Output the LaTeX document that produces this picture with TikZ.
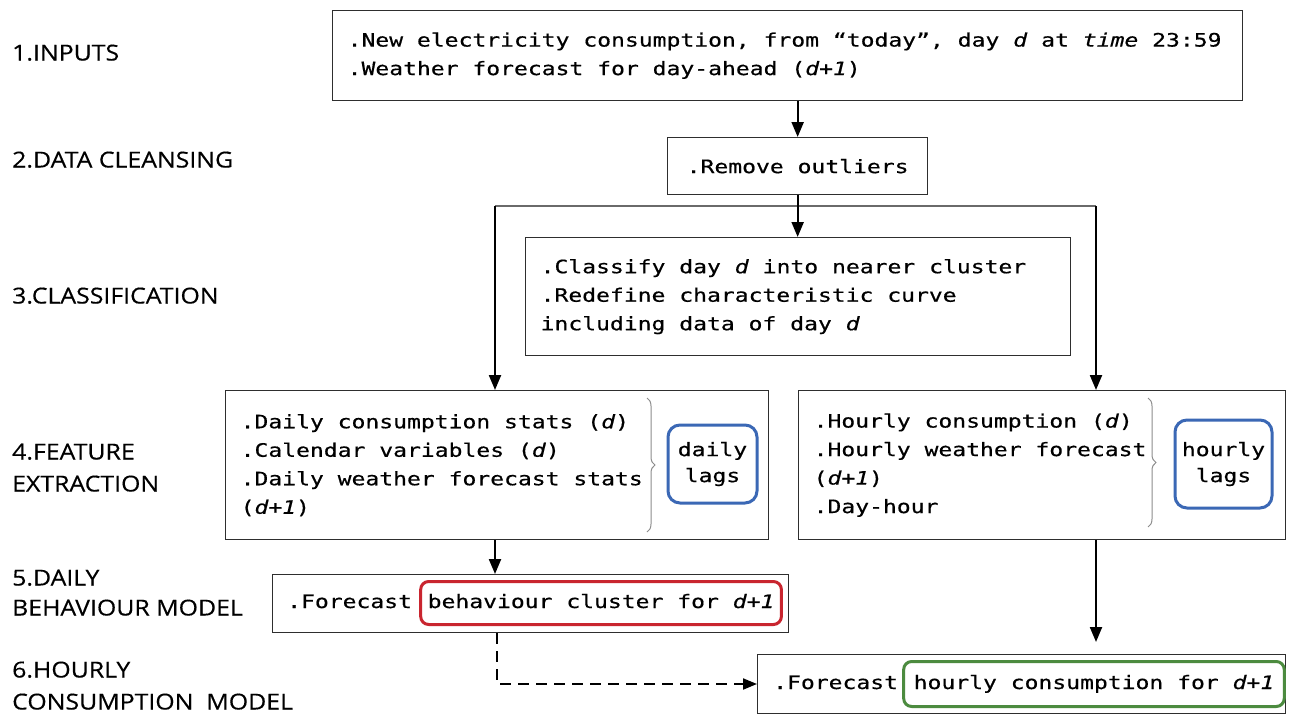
\documentclass[tikz,border=0pt]{standalone}
\usepackage{fontspec}
\usetikzlibrary{arrows.meta,decorations.pathreplacing}

% Box texts in a wide monospaced face, stage labels in a wide sans face
\newfontfamily\monofont[FakeStretch=1.245,FakeBold=0.5]{DejaVu Sans Mono}
\newfontfamily\labelfont[FakeStretch=1.13,FakeBold=0.4]{Open Sans}
% fixed, one-character-wide word spaces for the monospaced text
\newcommand\boxtextfont{\monofont\fontsize{18.5}{28.5}\selectfont
  \fontdimen2\font=13.87pt\fontdimen3\font=0pt\fontdimen4\font=0pt
  \spaceskip=13.87pt\relax}
\newcommand\lagtextfont{\monofont\fontsize{18.5}{26}\selectfont
  \fontdimen2\font=13.87pt\fontdimen3\font=0pt\fontdimen4\font=0pt
  \spaceskip=13.87pt\relax}

\definecolor{boxline}{HTML}{2E2E2E}
\definecolor{lagblue}{HTML}{3B68B5}
\definecolor{outred}{HTML}{C9252F}
\definecolor{outgreen}{HTML}{4C8B3F}
\definecolor{splitgray}{HTML}{6A6A6A}
\definecolor{bracegray}{HTML}{8C8C8C}

\begin{document}
\begin{tikzpicture}[x=1pt,y=-1pt,
  monospaces/.style={execute at begin node={\spaceskip=13.87pt\xspaceskip=13.87pt\relax}},
  box/.style={draw=boxline, line width=1.3pt, fill=white, inner xsep=15pt,
    inner ysep=0pt, align=flush left, anchor=north west, font=\boxtextfont,
    monospaces},
  plainbox/.style={draw=boxline, line width=1.3pt, fill=white, inner sep=0pt,
    anchor=north west},
  txt/.style={inner sep=0pt, anchor=base west, text height=14pt, text depth=4pt,
    font=\boxtextfont, monospaces},
  lag/.style={draw=lagblue, line width=3pt, rounded corners=12pt,
    align=flush center, inner sep=0pt, font=\lagtextfont, monospaces},
  outbox/.style={line width=3pt, rounded corners=8pt, inner ysep=0pt,
    anchor=base west, text height=14pt, text depth=4pt, font=\boxtextfont,
    monospaces},
  lab/.style={inner sep=0pt, anchor=base west,
    font={\labelfont\fontsize{22}{31}\selectfont}},
  arr/.style={line width=2.2pt, -{Triangle[length=15pt,width=12pt]}},
  dasharr/.style={line width=2pt, dash pattern=on 11pt off 7pt,
    -{Triangle[length=14pt,width=11pt]}},
  splitline/.style={draw=splitgray, line width=2pt},
  bracestyle/.style={draw=bracegray, line width=1pt, decorate,
    decoration={brace, amplitude=8pt}}
]
\useasboundingbox (0,0) rectangle (1294,715);

% stage labels
\node[lab] (l1)  at (12,60.5)  {1.INPUTS};
\node[lab] (l2)  at (12,167.5) {2.DATA CLEANSING};
\node[lab] (l3)  at (12,303.5) {3.CLASSIFICATION};
\node[lab] (l4a) at (12,459.5) {4.FEATURE};
\node[lab] (l4b) at (12,491.5) {EXTRACTION};
\node[lab] (l5a) at (12,585.5) {5.DAILY};
\node[lab] (l5b) at (12,615.5) {BEHAVIOUR MODEL};
\node[lab] (l6a) at (12,677.5) {6.HOURLY};
\node[lab] (l6b) at (12,709.5) {CONSUMPTION\ \ MODEL};

% 1. inputs
\node[box, text width=880pt, minimum height=90pt] (inputs) at (332,10)
  {\mbox{.New electricity consumption, from “today”, day \textit{d} at \textit{time} 23:59}\\
   .Weather forecast for day-ahead (\textit{d+1})};

% 2. data cleansing
\node[box, align=flush center, text width=230pt, minimum height=57pt] (rout) at (667,137)
  {.Remove outliers};

% 3. classification
\node[box, text width=515pt, minimum height=118pt] (classify) at (525,237)
  {.Classify day \textit{d} into nearer cluster\\
   .Redefine characteristic curve\\
   including data of day \textit{d}};

% 4. feature extraction
\node[box, text width=513pt, minimum height=149pt] (featL) at (225,390)
  {.Daily consumption stats (\textit{d})\\
   .Calendar variables (\textit{d})\\
   .Daily weather forecast stats\\
   (\textit{d+1})};
\draw[bracestyle] (647,398) -- (647,532);
\node[lag, minimum width=89pt, minimum height=78pt] (dlag) at (712.5,464) {daily\\lags};

\node[box, text width=457pt, minimum height=149pt] (featR) at (798,390)
  {.Hourly consumption (\textit{d})\\
   .Hourly weather forecast\\
   (\textit{d+1})\\
   .Day-hour};
\draw[bracestyle] (1148,398) -- (1148,527);
\node[lag, minimum width=97pt, minimum height=88pt] (hlag) at (1223.5,464) {hourly\\lags};

% 5. daily behaviour model
\node[plainbox, minimum width=516pt, minimum height=58pt] (daily) at (272,574) {};
\node[txt] (dailytxt) at (287,608) {.Forecast};
\node[outbox, draw=outred, inner xsep=7pt, minimum height=43pt] (dailyout)
  at ([xshift=7pt]dailytxt.base east) {behaviour cluster for \textit{d+1}};

% 6. hourly consumption model
\node[plainbox, minimum width=528pt, minimum height=59pt] (hourly) at (757,654) {};
\node[txt] (hourlytxt) at (773,689) {.Forecast};
\node[outbox, draw=outgreen, inner xsep=10pt, minimum height=45pt] (hourlyout)
  at ([xshift=4pt]hourlytxt.base east) {hourly consumption for \textit{d+1}};

% connectors
\draw[arr] (inputs.south -| rout.north) -- (rout.north);
\coordinate (splitL) at (495,206);
\coordinate (splitR) at (1096,206);
\draw[splitline] (splitL) -- (splitR);
\draw[arr] (rout.south) -- (rout.south |- classify.north);
\draw[arr] (splitL) -- (splitL |- featL.north);
\draw[arr] (splitR) -- (splitR |- featR.north);
\draw[arr] (featL.south -| splitL) -- (daily.north -| splitL);
\coordinate (dashcorner) at (497,684);
\draw[dasharr] (daily.south -| dashcorner) -- (dashcorner) -- (dashcorner -| hourly.west);
\draw[arr] (featR.south -| splitR) -- ([yshift=12pt]hourly.north -| splitR);
\end{tikzpicture}
\end{document}
